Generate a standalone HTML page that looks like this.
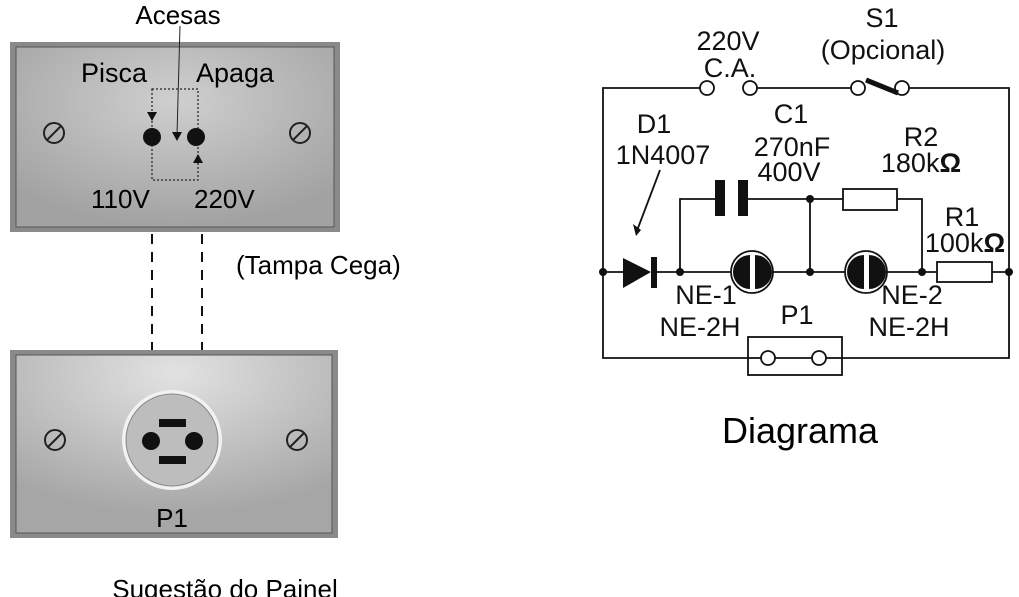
<!DOCTYPE html>
<html><head><meta charset="utf-8"><style>
html,body{margin:0;padding:0;background:#fff;}
svg{display:block;font-family:"Liberation Sans",sans-serif;}
</style></head><body>
<svg width="1019" height="597" viewBox="0 0 1019 597" xmlns="http://www.w3.org/2000/svg">
<defs>
<radialGradient id="g1" cx="0.5" cy="0.3" r="0.7">
<stop offset="0" stop-color="#cfcfcf"/><stop offset="1" stop-color="#a2a2a2"/></radialGradient>
<radialGradient id="g2" cx="0.5" cy="0.1" r="0.8">
<stop offset="0" stop-color="#e2e2e2"/><stop offset="1" stop-color="#a6a6a6"/></radialGradient>
</defs>
<rect x="10" y="42" width="330" height="190" fill="#8a8a8a"/>
<rect x="16" y="47" width="318" height="180" fill="url(#g1)" stroke="#555" stroke-width="1"/>
<text x="178" y="24" font-size="26" text-anchor="middle">Acesas</text>
<line x1="180" y1="26" x2="177" y2="135" stroke="#222" stroke-width="1"/>
<polygon points="172,132 182,132 177,141" fill="#111"/>
<text x="81" y="82" font-size="27">Pisca</text>
<text x="196" y="82" font-size="27">Apaga</text>
<rect x="152" y="89" width="46" height="91" fill="none" stroke="#222" stroke-width="1.2" stroke-dasharray="2,2"/>
<polygon points="147,112 157,112 152,121" fill="#111"/>
<polygon points="193,163 203,163 198,154" fill="#111"/>
<circle cx="152" cy="137" r="9" fill="#111"/>
<circle cx="196" cy="137" r="9" fill="#111"/>
<text x="91" y="208" font-size="26">110V</text>
<text x="194" y="208" font-size="26">220V</text>
<g stroke="#222" stroke-width="2" fill="none">
<circle cx="54" cy="133" r="10"/><line x1="47" y1="140" x2="61" y2="126"/>
<circle cx="300" cy="133" r="10"/><line x1="293" y1="140" x2="307" y2="126"/>
</g>
<g stroke="#111" stroke-width="2" stroke-dasharray="10,8">
<line x1="152" y1="234" x2="152" y2="350"/>
<line x1="202" y1="234" x2="202" y2="350"/>
</g>
<text x="236" y="274" font-size="26">(Tampa Cega)</text>
<rect x="10" y="350" width="328" height="188" fill="#8a8a8a"/>
<rect x="16" y="355" width="316" height="178" fill="url(#g2)" stroke="#555" stroke-width="1"/>
<circle cx="172" cy="440" r="50" fill="#f2f2f2"/>
<circle cx="172" cy="440" r="46" fill="#bdbdbd" stroke="#888" stroke-width="1"/>
<rect x="159" y="419" width="27" height="8" fill="#111"/>
<rect x="159" y="456" width="27" height="8" fill="#111"/>
<circle cx="151" cy="441" r="9" fill="#111"/>
<circle cx="194" cy="441" r="9" fill="#111"/>
<text x="172" y="527" font-size="26" text-anchor="middle">P1</text>
<g stroke="#222" stroke-width="2" fill="none">
<circle cx="55" cy="440" r="10"/><line x1="48" y1="447" x2="62" y2="433"/>
<circle cx="297" cy="440" r="10"/><line x1="290" y1="447" x2="304" y2="433"/>
</g>
<text x="225" y="598" font-size="26" text-anchor="middle">Sugestão do Painel</text>

<g stroke="#111" stroke-width="1.8" fill="none">
<polyline points="700,88 603,88 603,358 748,358"/>
<line x1="757" y1="88" x2="851" y2="88"/>
<polyline points="909,88 1009,88 1009,358 842,358"/>
<line x1="603" y1="272" x2="623" y2="272"/>
<line x1="656" y1="272" x2="732" y2="272"/>
<line x1="772" y1="272" x2="846" y2="272"/>
<line x1="886" y1="272" x2="937" y2="272"/>
<line x1="992" y1="272" x2="1009" y2="272"/>
<polyline points="680,272 680,199 715,199"/>
<line x1="748" y1="199" x2="843" y2="199"/>
<polyline points="897,199 922,199 922,272"/>
<line x1="810" y1="199" x2="810" y2="272"/>
<line x1="748" y1="358" x2="761" y2="358"/>
<line x1="775" y1="358" x2="812" y2="358"/>
<line x1="826" y1="358" x2="842" y2="358"/>
<rect x="748" y="337" width="94" height="38"/>
<rect x="843" y="189" width="54" height="21" fill="#fff"/>
<rect x="937" y="262" width="55" height="20" fill="#fff"/>
<circle cx="707" cy="88" r="7" fill="#fff"/>
<circle cx="750" cy="88" r="7" fill="#fff"/>
<circle cx="858" cy="88" r="7" fill="#fff"/>
<circle cx="902" cy="88" r="7" fill="#fff"/>
<circle cx="768" cy="358" r="7" fill="#fff"/>
<circle cx="819" cy="358" r="7" fill="#fff"/>
<circle cx="752" cy="272" r="21" fill="#fff"/>
<circle cx="866" cy="272" r="21" fill="#fff"/>
<line x1="660" y1="170" x2="638" y2="228"/>
</g>
<line x1="866" y1="80" x2="898" y2="93" stroke="#111" stroke-width="5"/>
<polygon points="633,224 641,230 636,236" fill="#111"/>
<rect x="715" y="180" width="10" height="36" fill="#111"/>
<rect x="738" y="180" width="10" height="36" fill="#111"/>
<polygon points="623,258 623,288 651,272" fill="#111"/>
<rect x="651" y="257" width="6" height="31" fill="#111"/>
<path d="M750,255 A17,17 0 0 0 750,289 Z" fill="#111"/>
<path d="M755,255 A17,17 0 0 1 755,289 Z" fill="#111"/>
<path d="M864,255 A17,17 0 0 0 864,289 Z" fill="#111"/>
<path d="M869,255 A17,17 0 0 1 869,289 Z" fill="#111"/>
<g fill="#111">
<circle cx="603" cy="272" r="4"/><circle cx="680" cy="272" r="4"/>
<circle cx="810" cy="272" r="4"/><circle cx="922" cy="272" r="4"/>
<circle cx="1009" cy="272" r="4"/><circle cx="810" cy="199" r="4"/>
</g>
<g font-size="27" fill="#111">
<text x="728" y="50" text-anchor="middle">220V</text>
<text x="730" y="77" text-anchor="middle">C.A.</text>
<text x="882" y="27" text-anchor="middle">S1</text>
<text x="883" y="59" text-anchor="middle">(Opcional)</text>
<text x="654" y="133" text-anchor="middle">D1</text>
<text x="663" y="164" text-anchor="middle">1N4007</text>
<text x="791" y="123" text-anchor="middle">C1</text>
<text x="792" y="156" text-anchor="middle">270nF</text>
<text x="789" y="181" text-anchor="middle">400V</text>
<text x="921" y="146" text-anchor="middle">R2</text>
<text x="921" y="172" text-anchor="middle">180k<tspan font-weight="bold">Ω</tspan></text>
<text x="962" y="226" text-anchor="middle">R1</text>
<text x="965" y="252" text-anchor="middle">100k<tspan font-weight="bold">Ω</tspan></text>
<text x="706" y="304" text-anchor="middle">NE-1</text>
<text x="700" y="336" text-anchor="middle">NE-2H</text>
<text x="797" y="324" text-anchor="middle">P1</text>
<text x="912" y="304" text-anchor="middle">NE-2</text>
<text x="909" y="336" text-anchor="middle">NE-2H</text>
</g>
<text x="800" y="443" font-size="36" text-anchor="middle">Diagrama</text>
</svg>
</body></html>
